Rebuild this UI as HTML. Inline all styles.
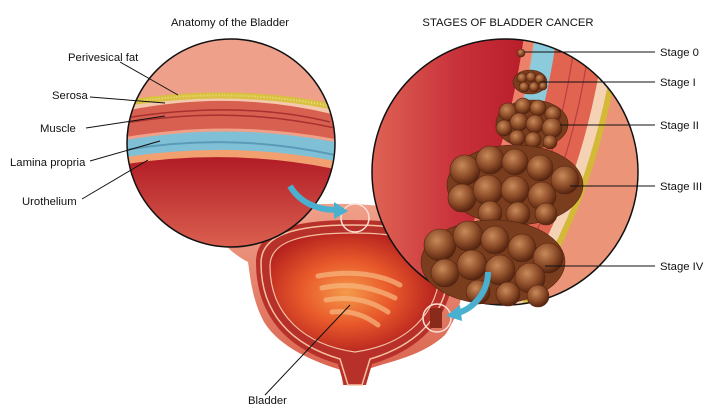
<!DOCTYPE html>
<html><head><meta charset="utf-8"><style>
html,body{margin:0;padding:0;background:#fff}
svg{display:block}
text{font-family:"Liberation Sans",sans-serif;font-size:11.3px;fill:#111}
</style></head><body>
<svg width="720" height="418" viewBox="0 0 720 418">
<defs>
<radialGradient id="cav" cx="0.45" cy="0.5" r="0.6">
<stop offset="0" stop-color="#f59a4a"/><stop offset="0.45" stop-color="#e8582a"/><stop offset="1" stop-color="#a8141c"/></radialGradient>
<linearGradient id="body" x1="0" y1="0" x2="0" y2="1"><stop offset="0" stop-color="#f0a08a"/><stop offset="1" stop-color="#d8604a"/></linearGradient>
<linearGradient id="lred" x1="0" y1="0" x2="0" y2="1"><stop offset="0" stop-color="#b21c26"/><stop offset="1" stop-color="#e06a55"/></linearGradient>
<linearGradient id="rred" x1="0" y1="0" x2="1" y2="0"><stop offset="0" stop-color="#e26a58"/><stop offset="0.6" stop-color="#c8303a"/><stop offset="1" stop-color="#b81e2a"/></linearGradient>
<radialGradient id="tum" cx="0.4" cy="0.35" r="0.65"><stop offset="0" stop-color="#c88a5a"/><stop offset="0.6" stop-color="#8c4c28"/><stop offset="1" stop-color="#552410"/></radialGradient>
<clipPath id="cl"><circle cx="231" cy="143" r="104"/></clipPath>
<clipPath id="cr"><circle cx="505" cy="172" r="133"/></clipPath>
</defs>

<path d="M225 245 C232 222 252 210 292 206 C345 201 415 204 458 226 C472 255 466 305 445 335 C420 358 385 362 366 370 L364 385 L343 385 L341 370 C315 362 280 348 264 322 C252 300 250 275 248 262 C240 258 232 252 225 245 Z" fill="url(#body)"/>
<path d="M256 262 C256 232 290 220 352 220 C414 220 454 232 454 262 C454 318 420 350 372 364 L366 385 L344 385 L338 364 C290 350 256 318 256 262 Z" fill="#b8302a"/>
<path d="M261 263 C261 236 292 225 352 225 C410 225 449 236 449 263 C449 314 418 345 370 359 L362 385 L348 385 L340 359 C292 345 261 314 261 263 Z" fill="none" stroke="#f3c0a0" stroke-width="1.5"/>
<path d="M270 266 C270 242 300 233 352 233 C404 233 440 242 440 266 C440 315 405 345 355 352 C305 345 270 315 270 266 Z" fill="url(#cav)" stroke="#f3c0a0" stroke-width="1.2"/>
<g stroke="#f8b880" stroke-width="5" stroke-linecap="round" fill="none" opacity="0.7">
<path d="M318 276 C350 270 380 274 400 285"/><path d="M322 288 C350 282 375 288 395 298"/><path d="M326 300 C350 296 370 300 388 312"/><path d="M332 312 C350 310 365 315 378 325"/></g>

<g clip-path="url(#cl)">
<rect x="120" y="30" width="230" height="230" fill="#eea08a"/>
<path d="M120 108 Q231 80 340 110 L340 260 L120 260 Z" fill="#f4c8aa"/>
<path d="M120 112 Q231 88 340 116 L340 260 L120 260 Z" fill="#d86050"/>
<path d="M125 123 Q231 105 335 128 M125 118 Q240 100 330 122" stroke="#a83030" stroke-width="1.5" fill="none"/>
<path d="M120 138 Q231 118 340 140 L340 260 L120 260 Z" fill="#f0a088"/>
<path d="M120 141 Q231 121 340 143 L340 260 L120 260 Z" fill="#80c0d6"/>
<path d="M125 150 Q231 132 335 155" stroke="#5a9cb8" stroke-width="2" fill="none"/>
<path d="M120 158 Q231 140 340 162 L340 260 L120 260 Z" fill="#f2a070"/>
<path d="M120 165 Q231 147 340 170 L340 260 L120 260 Z" fill="url(#lred)"/>
<path d="M120 104 Q231 85 340 108" stroke="#d8c040" stroke-width="6" fill="none"/>
<path d="M120 104 Q231 85 340 108" stroke="#f0e080" stroke-width="2" stroke-dasharray="1 2" fill="none"/>
</g>
<circle cx="231" cy="143" r="104" fill="none" stroke="#111" stroke-width="1.5"/>

<g clip-path="url(#cr)">
<rect x="360" y="30" width="360" height="290" fill="#ec9478"/>
<path d="M360 30 L525 30 C510 140 480 230 420 320 L360 320 Z" fill="url(#rred)"/>
<path d="M530 30 C515 140 485 230 425 320" stroke="#ec8068" stroke-width="10" fill="none"/>
<path d="M547 30 C532 140 502 230 442 320" stroke="#8ccbdc" stroke-width="22" fill="none"/>
<path d="M582 30 C567 140 537 230 477 320" stroke="#e06450" stroke-width="48" fill="none"/>
<path d="M575 40 C562 140 532 230 472 320 M590 40 C577 140 547 230 487 320" stroke="#b84040" stroke-width="1.2" fill="none"/>
<path d="M612 30 C597 140 567 230 507 320" stroke="#f6d2b4" stroke-width="12" fill="none"/>
<path d="M620 30 C605 140 575 230 515 320" stroke="#d4b838" stroke-width="6" fill="none"/>
</g>
<circle cx="505" cy="172" r="133" fill="none" stroke="#111" stroke-width="1.5"/>

<g fill="url(#tum)" stroke="#552410" stroke-width="0.6">
<circle cx="521" cy="53" r="4"/>
<ellipse cx="530" cy="82" rx="17" ry="12" fill="#7a3e1e"/>
<circle cx="522" cy="78" r="5"/><circle cx="531" cy="77" r="5"/><circle cx="540" cy="79" r="5"/><circle cx="524" cy="87" r="5"/><circle cx="534" cy="87" r="5"/><circle cx="543" cy="86" r="4"/>
<ellipse cx="532" cy="124" rx="36" ry="24" fill="#7a3e1e"/>
<circle cx="508" cy="112" r="9"/><circle cx="523" cy="106" r="8"/><circle cx="538" cy="108" r="8"/><circle cx="553" cy="114" r="8"/><circle cx="504" cy="128" r="8"/><circle cx="519" cy="122" r="9"/><circle cx="535" cy="124" r="9"/><circle cx="552" cy="128" r="10"/><circle cx="517" cy="138" r="8"/><circle cx="533" cy="140" r="8"/><circle cx="550" cy="142" r="7"/>
<ellipse cx="515" cy="185" rx="68" ry="40" fill="#7a3e1e"/>
<circle cx="465" cy="170" r="15"/><circle cx="490" cy="160" r="14"/><circle cx="515" cy="162" r="13"/><circle cx="540" cy="168" r="13"/><circle cx="565" cy="180" r="14"/><circle cx="462" cy="198" r="14"/><circle cx="488" cy="190" r="15"/><circle cx="515" cy="190" r="14"/><circle cx="542" cy="196" r="14"/><circle cx="490" cy="213" r="12"/><circle cx="518" cy="214" r="12"/><circle cx="546" cy="214" r="11"/>
<ellipse cx="493" cy="262" rx="72" ry="42" fill="#7a3e1e"/>
<circle cx="440" cy="245" r="16"/><circle cx="468" cy="236" r="15"/><circle cx="495" cy="240" r="14"/><circle cx="522" cy="248" r="14"/><circle cx="548" cy="258" r="15"/><circle cx="445" cy="273" r="14"/><circle cx="472" cy="265" r="15"/><circle cx="500" cy="270" r="15"/><circle cx="530" cy="278" r="15"/><circle cx="478" cy="292" r="12"/><circle cx="508" cy="294" r="12"/><circle cx="538" cy="296" r="11"/>
</g>

<circle cx="355" cy="218" r="14" fill="none" stroke="#fbe0d8" stroke-width="1.5"/>
<circle cx="437" cy="318" r="14" fill="none" stroke="#fbe0d8" stroke-width="1.5"/>
<rect x="430" y="308" width="12" height="20" fill="#8a2a1a"/>
<path d="M290 186 C300 203 318 210 336 210" stroke="#4ab0d0" stroke-width="6" fill="none"/>
<polygon points="334,202 348,211 334,219" fill="#4ab0d0"/>
<path d="M488 272 C488 292 474 308 458 313" stroke="#4ab0d0" stroke-width="6" fill="none"/>
<polygon points="460,305 446,316 462,321" fill="#4ab0d0"/>

<g stroke="#111" stroke-width="1" fill="none">
<line x1="120" y1="62" x2="178" y2="95"/>
<line x1="90" y1="97" x2="165" y2="103"/>
<line x1="86" y1="128" x2="165" y2="116"/>
<line x1="90" y1="161" x2="160" y2="141"/>
<line x1="82" y1="199" x2="148" y2="160"/>
<line x1="265" y1="395" x2="350" y2="305"/>
<line x1="525" y1="52" x2="655" y2="52"/>
<line x1="540" y1="82" x2="655" y2="82"/>
<line x1="560" y1="125" x2="655" y2="125"/>
<line x1="570" y1="186" x2="655" y2="186"/>
<line x1="545" y1="266" x2="655" y2="266"/>
</g>

<text x="230" y="26" text-anchor="middle">Anatomy of the Bladder</text>
<text x="508" y="26" text-anchor="middle">STAGES OF BLADDER CANCER</text>
<text x="68" y="61">Perivesical fat</text>
<text x="52" y="99">Serosa</text>
<text x="40" y="132">Muscle</text>
<text x="10" y="166">Lamina propria</text>
<text x="22" y="205">Urothelium</text>
<text x="248" y="404">Bladder</text>
<text x="660" y="56">Stage 0</text>
<text x="660" y="86">Stage I</text>
<text x="660" y="129">Stage II</text>
<text x="660" y="190">Stage III</text>
<text x="660" y="270">Stage IV</text>
</svg>
</body></html>
